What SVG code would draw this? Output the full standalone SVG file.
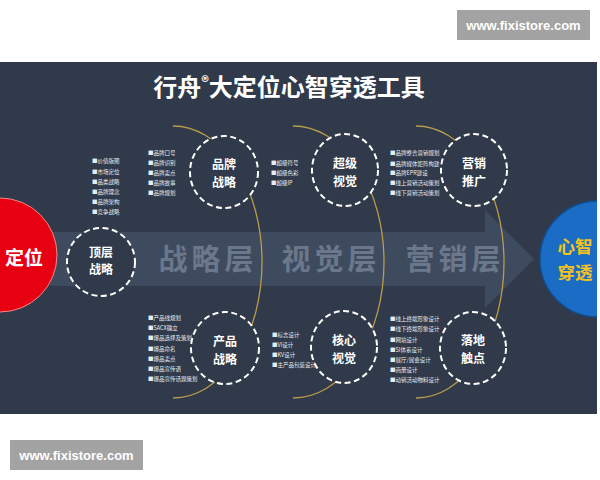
<svg xmlns="http://www.w3.org/2000/svg" width="600" height="480" viewBox="0 0 600 480">
<defs>
<style>
.cjk{font-family:"Noto Sans CJK SC","Liberation Sans",sans-serif}
.node{fill:#303a4a;stroke:#ffffff;stroke-width:2;stroke-dasharray:6 3.5}
.lbl{font-family:"Noto Sans CJK SC","Liberation Sans",sans-serif;font-size:12px;font-weight:700;fill:#ffffff;text-anchor:middle}
.li{font-family:"Noto Sans CJK SC","Liberation Sans",sans-serif;font-size:5.5px;fill:#e8ecf2}
.band{font-family:"Noto Sans CJK SC","Liberation Sans",sans-serif;font-size:29px;font-weight:700;fill:#6b778a;text-anchor:middle;letter-spacing:4px}
.arc{fill:none;stroke:#b99c4c;stroke-width:1.3}
.wm{fill:#a3a3a3}
.wmt{font-family:"Liberation Sans",Arial,sans-serif;font-size:13px;font-weight:700;fill:#ffffff;text-anchor:middle}
</style>
<clipPath id="panelClip"><rect x="0" y="62" width="597" height="352"/></clipPath>
</defs>
<rect width="600" height="480" fill="#ffffff"/>
<rect x="0" y="62" width="597" height="352" fill="#303a4a"/>

<g id="band">
<path d="M50,232 H485 V210 L534,259 L485,308 V286 H50 Z" fill="#3e4b5e"/>
<text class="band" x="208" y="270">战略层</text>
<text class="band" x="331" y="270">视觉层</text>
<text class="band" x="455" y="270">营销层</text>
</g>

<g id="connectors">
<path class="arc" d="M173,126 A89,136 0 0 1 173,398"/>
<path class="arc" d="M293,126 A91,136 0 0 1 293,398"/>
<path class="arc" d="M416,126 A88,136 0 0 1 416,398"/>
</g>

<g id="node-dingwei">
<circle cx="0" cy="255" r="57" fill="#e60012" stroke="#f08a8a" stroke-width="1"/>
<text class="cjk" x="24" y="265" font-size="19" font-weight="700" fill="#ffffff" text-anchor="middle">定位</text>
</g>

<g id="node-xinzhi" clip-path="url(#panelClip)">
<circle cx="598" cy="259" r="58" fill="#1a6cc4" stroke="#0f4f96" stroke-width="1.5"/>
<text class="cjk" x="575" y="253" font-size="17.5" font-weight="700" fill="#f6c21c" text-anchor="middle">心智<tspan x="575" dy="25.5">穿透</tspan></text>
</g>

<g id="node-dingceng">
<circle class="node" cx="101" cy="262" r="34"/>
<text class="lbl" x="101" y="257" font-size="11.5">顶层<tspan x="101" dy="17">战略</tspan></text>
<g class="li">
<text x="92" y="163">■价值版图</text>
<text x="92" y="174">■市场定位</text>
<text x="92" y="184">■品类战略</text>
<text x="92" y="194">■品牌理念</text>
<text x="92" y="204">■品牌架构</text>
<text x="92" y="214">■竞争战略</text>
</g>
</g>

<g id="node-pinpai">
<ellipse class="node" cx="224" cy="172" rx="34" ry="36"/>
<text class="lbl" x="224" y="169">品牌<tspan x="224" dy="17.5">战略</tspan></text>
<g class="li">
<text x="148" y="155">■品牌口号</text>
<text x="148" y="165">■品牌识别</text>
<text x="148" y="175">■品牌卖点</text>
<text x="148" y="185">■品牌故事</text>
<text x="148" y="195">■品牌规划</text>
</g>
</g>

<g id="node-chanpin">
<ellipse class="node" cx="225" cy="348" rx="34" ry="36"/>
<text class="lbl" x="225" y="346">产品<tspan x="225" dy="17.5">战略</tspan></text>
<g class="li">
<text x="148" y="320">■产品线规划</text>
<text x="148" y="330">■SACX确立</text>
<text x="148" y="340">■爆品选择及策划</text>
<text x="148" y="351">■爆品命名</text>
<text x="148" y="361">■爆品卖点</text>
<text x="148" y="371">■爆品宣传语</text>
<text x="148" y="381">■爆品宣传话题策划</text>
</g>
</g>

<g id="node-chaoji">
<ellipse class="node" cx="345" cy="170" rx="33" ry="36"/>
<text class="lbl" x="345" y="168">超级<tspan x="345" dy="17.5">视觉</tspan></text>
<g class="li">
<text x="271" y="165">■超级符号</text>
<text x="271" y="175">■超级色彩</text>
<text x="271" y="185">■超级IP</text>
</g>
</g>

<g id="node-hexin">
<ellipse class="node" cx="344" cy="347" rx="33" ry="36"/>
<text class="lbl" x="344" y="345">核心<tspan x="344" dy="17.5">视觉</tspan></text>
<g class="li">
<text x="272" y="337">■标志设计</text>
<text x="272" y="347">■VI设计</text>
<text x="272" y="357">■KV设计</text>
<text x="272" y="367">■主产品包装设计</text>
</g>
</g>

<g id="node-yingxiao">
<ellipse class="node" cx="474" cy="170" rx="33" ry="36"/>
<text class="lbl" x="474" y="168">营销<tspan x="474" dy="17.5">推广</tspan></text>
<g class="li" font-size="6">
<text x="390" y="155">■品牌整合营销规划</text>
<text x="390" y="166">■品牌媒体矩阵构建</text>
<text x="390" y="175">■品牌EPR建设</text>
<text x="390" y="185">■线上营销活动策划</text>
<text x="390" y="195">■线下营销活动策划</text>
</g>
</g>

<g id="node-luodi">
<ellipse class="node" cx="473" cy="348" rx="33" ry="36"/>
<text class="lbl" x="473" y="345">落地<tspan x="473" dy="17.5">触点</tspan></text>
<g class="li">
<text x="390" y="321">■线上终端形象设计</text>
<text x="390" y="331">■线下终端形象设计</text>
<text x="390" y="342">■网站设计</text>
<text x="390" y="352">■SI体系设计</text>
<text x="390" y="362">■展厅/展会设计</text>
<text x="390" y="372">■画册设计</text>
<text x="390" y="382">■动销活动物料设计</text>
</g>
</g>

<g id="title">
<text class="cjk" x="289" y="96" font-size="24" font-weight="700" fill="#ffffff" text-anchor="middle">行舟<tspan font-size="15" dy="-8">®</tspan><tspan dy="8">大定位心智穿透工具</tspan></text>
</g>

<g id="watermarks">
<rect class="wm" x="457" y="10" width="133" height="30"/>
<text class="wmt" x="523.5" y="30">www.fixistore.com</text>
<rect class="wm" x="10" y="440" width="133" height="30"/>
<text class="wmt" x="76.5" y="460">www.fixistore.com</text>
</g>
</svg>
